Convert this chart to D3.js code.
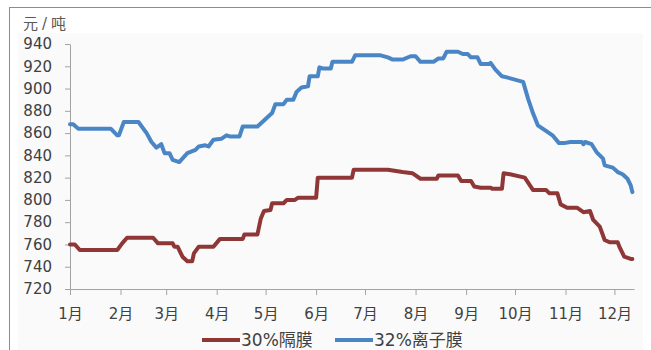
<!DOCTYPE html>
<html>
<head>
<meta charset="utf-8">
<script src="https://cdn.jsdelivr.net/npm/d3@7"></script>
<style>
  body { margin: 0; background: #fff; }
  svg text { font-family: "DejaVu Sans", "Noto Sans CJK SC", sans-serif; }
</style>
</head>
<body>
<div id="chart"></div>
<script>
// 30% separator (red) - dates and prices
var dates30 = ['01-01','01-04','01-07','01-30','02-02','02-05','02-21','02-24','03-05','03-06','03-08','03-11','03-14','03-17','03-18','03-21','03-30','04-03','04-17','04-18','04-26','04-28','04-30','05-04','05-05','05-12','05-14','05-19','05-21','06-01','06-02','06-23','06-24','07-15','07-24','07-30','08-04','08-14','08-15','08-27','08-29','09-04','09-06','09-10','09-16','09-17','09-23','09-24','09-28','10-07','10-12','10-20','10-22','10-27','10-29','11-02','11-08','11-12','11-16','11-18','11-22','11-25','11-28','12-03','12-04','12-07','12-11','12-12'];
var values30 = [760,760,755,755,761,766,766,761,761,758,758,749,745,745,752,758,758,765,765,769,769,783,790,791,797,797,800,800,802,802,820,820,827,827,825,824,819,819,822,822,817,817,812,811,811,810,810,824,823,820,809,809,806,806,796,793,793,789,790,782,776,764,762,762,758,749,747,747];

// 32% ion membrane (blue)
var dates32 = ['01-01','01-03','01-06','01-26','01-30','01-31','02-03','02-12','02-17','02-20','02-23','02-26','02-28','03-03','03-05','03-09','03-14','03-19','03-21','03-25','03-27','03-30','04-04','04-07','04-09','04-15','04-17','04-26','05-02','05-05','05-07','05-12','05-14','05-18','05-20','05-23','05-27','05-28','06-02','06-03','06-05','06-10','06-11','06-23','06-25','07-10','07-15','07-18','07-24','07-29','08-01','08-04','08-12','08-15','08-18','08-20','08-27','08-30','09-02','09-04','09-08','09-10','09-15','09-16','09-19','09-23','09-26','10-06','10-09','10-12','10-15','10-20','10-24','10-28','10-31','11-04','11-11','11-12','11-13','11-17','11-20','11-24','11-25','11-30','12-03','12-06','12-09','12-11','12-12'];
var values32 = [868,868,864,864,858,858,870,870,860,852,847,850,842,842,836,834,842,845,848,849,848,854,855,858,857,857,866,866,874,878,886,886,890,890,897,901,902,911,911,919,918,918,924,924,930,930,928,926,926,929,929,924,924,927,927,933,933,931,931,928,928,922,922,923,917,911,910,906,891,878,867,862,858,851,851,852,852,850,852,850,843,837,831,829,825,823,819,813,807];

var yTicks = [720,740,760,780,800,820,840,860,880,900,920,940];
var seriesNames = ['30%隔膜', '32%离子膜'];
var seriesColors = ['#8e3736', '#4a86c6'];

var width = 651, height = 350;
var parse = d3.timeParse('%Y-%m-%d');
function toPoints(dates, values) {
  return dates.map(function(d, i) { return { date: parse('2019-' + d), value: values[i] }; });
}
var series = [toPoints(dates30, values30), toPoints(dates32, values32)];

var svg = d3.select('#chart').append('svg')
  .attr('width', width)
  .attr('height', height);

// frame + plot background
svg.append('rect')
  .attr('x', 9.5).attr('y', 7.5)
  .attr('width', 700).attr('height', 400)
  .attr('fill', '#fff').attr('stroke', '#8c8c8c');
svg.append('rect')
  .attr('x', 18).attr('y', 33)
  .attr('width', 625).attr('height', 330)
  .attr('fill', '#fafafa');

var x = d3.scaleTime()
  .domain([parse('2019-01-01'), parse('2019-12-13')])
  .range([70, 634]);
var y = d3.scaleLinear()
  .domain([720, 940])
  .range([289, 44]);

var yAxis = svg.append('g')
  .attr('transform', 'translate(70,0)')
  .call(d3.axisLeft(y).tickValues(yTicks).tickSize(5).tickSizeOuter(0).tickPadding(13));

var months = d3.timeMonth.range(parse('2019-01-01'), parse('2019-12-13'));
var xAxis = svg.append('g')
  .attr('transform', 'translate(0,289)')
  .call(d3.axisBottom(x).tickValues(months).tickSize(6).tickSizeOuter(0).tickPadding(13)
    .tickFormat(d3.timeFormat('%-m月')));

[yAxis, xAxis].forEach(function(ax) {
  ax.selectAll('path, line').attr('stroke', '#a3a3a3');
  ax.selectAll('text').attr('fill', '#404040').style('font-size', '15px');
});

svg.append('text')
  .attr('x', 23).attr('y', 29)
  .attr('fill', '#595959')
  .style('font-size', '15px')
  .style('letter-spacing', '4px')
  .text('元/吨');

var line = d3.line()
  .x(function(d) { return x(d.date); })
  .y(function(d) { return y(d.value); });

series.forEach(function(s, i) {
  svg.append('path')
    .datum(s)
    .attr('d', line)
    .attr('fill', 'none')
    .attr('stroke', seriesColors[i])
    .attr('stroke-width', 4)
    .attr('stroke-linejoin', 'round')
    .attr('stroke-linecap', 'round');
});

// legend
var legendX = [202, 335];
var legend = svg.append('g').selectAll('g')
  .data(seriesNames)
  .enter().append('g')
  .attr('transform', function(d, i) { return 'translate(' + legendX[i] + ',340)'; });
legend.append('line')
  .attr('x1', 0).attr('x2', 38)
  .attr('stroke', function(d, i) { return seriesColors[i]; })
  .attr('stroke-width', 4);
legend.append('text')
  .attr('x', 39).attr('dy', '0.36em')
  .attr('fill', '#404040')
  .style('font-size', '17px')
  .text(function(d) { return d; });
</script>
</body>
</html>
